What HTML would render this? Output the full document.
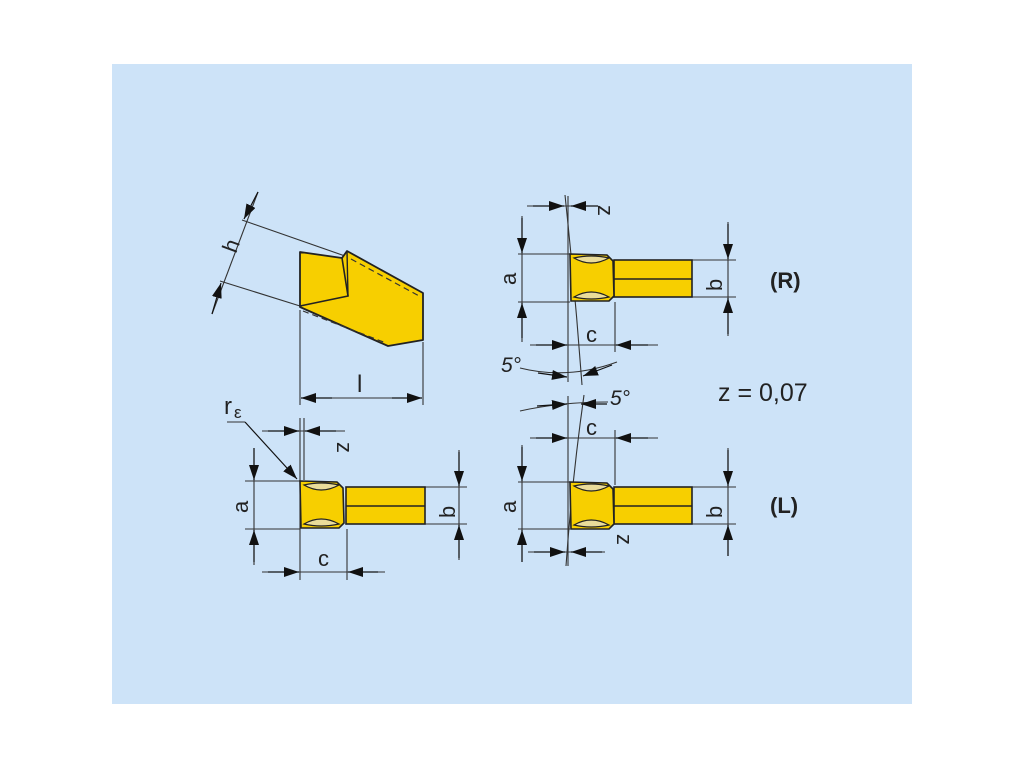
<!DOCTYPE html>
<html><head><meta charset="utf-8"><style>
html,body{margin:0;padding:0;background:#fff;}
svg{display:block;}
text{font-family:"Liberation Sans",sans-serif;fill:#222;}
</style></head><body>
<svg width="1024" height="768" viewBox="0 0 1024 768" xmlns="http://www.w3.org/2000/svg">
<defs>
<marker id="ar" markerUnits="userSpaceOnUse" markerWidth="16" markerHeight="10" refX="15" refY="5" orient="auto">
<path d="M0,0 L15,5 L0,10 z" fill="#111"/>
</marker>
<g id="front">
<path d="M1,1 L38,2 L44,8 L45,43 L40,48 L2,48 Z" fill="#f7cf00" stroke="#222" stroke-width="1.6"/>
<path d="M5,5 Q22,15 40,5 Q22,1 5,5 Z" fill="#eadc9a" stroke="#222" stroke-width="1.2"/>
<path d="M5,44 Q22,34 40,44 Q22,48 5,44 Z" fill="#eadc9a" stroke="#222" stroke-width="1.2"/>
</g>
</defs>
<rect x="112" y="64" width="800" height="640" fill="#cde3f8"/>

<g stroke="#333" stroke-width="1.1" fill="none">
<line x1="242" y1="220" x2="345" y2="256"/>
<line x1="220" y1="281" x2="300" y2="306"/>
<line x1="258" y1="192" x2="212" y2="314"/>
<line x1="300" y1="310" x2="300" y2="405"/>
<line x1="423" y1="342" x2="423" y2="405"/>
<line x1="330" y1="398" x2="395" y2="398"/>
<line x1="245" y1="481" x2="300" y2="481"/>
<line x1="245" y1="529" x2="300" y2="529"/>
<line x1="254" y1="448" x2="254" y2="565"/>
<line x1="425" y1="487" x2="467" y2="487"/>
<line x1="425" y1="524" x2="467" y2="524"/>
<line x1="459" y1="450" x2="459" y2="560"/>
<line x1="300" y1="418" x2="300" y2="580"/>
<line x1="304" y1="418" x2="304" y2="480"/>
<line x1="347" y1="529" x2="347" y2="580"/>
<line x1="262" y1="431" x2="345" y2="431"/>
<line x1="262" y1="572" x2="385" y2="572"/>
<line x1="227" y1="422" x2="245" y2="422"/>
<line x1="518" y1="254" x2="570" y2="254"/>
<line x1="518" y1="302" x2="570" y2="302"/>
<line x1="522" y1="216" x2="522" y2="342"/>
<line x1="692" y1="260" x2="736" y2="260"/>
<line x1="692" y1="297" x2="736" y2="297"/>
<line x1="728" y1="222" x2="728" y2="336"/>
<line x1="568" y1="196" x2="568" y2="382"/>
<path d="M565,195 Q575,290 582,385"/>
<line x1="527" y1="206" x2="598" y2="206"/>
<line x1="615" y1="302" x2="615" y2="352"/>
<line x1="530" y1="345" x2="658" y2="345"/>
<path d="M520,368 Q568,380 617,362"/>
<path d="M520,411 Q560,402 608,402"/>
<line x1="568" y1="396" x2="568" y2="566"/>
<path d="M584,395 Q572,480 566,566"/>
<line x1="530" y1="438" x2="658" y2="438"/>
<line x1="615" y1="430" x2="615" y2="485"/>
<line x1="518" y1="482" x2="570" y2="482"/>
<line x1="518" y1="529" x2="570" y2="529"/>
<line x1="522" y1="445" x2="522" y2="562"/>
<line x1="692" y1="487" x2="736" y2="487"/>
<line x1="692" y1="524" x2="736" y2="524"/>
<line x1="728" y1="448" x2="728" y2="556"/>
<line x1="528" y1="552" x2="605" y2="552"/>
</g>

<g stroke="#111" stroke-width="1.2" marker-end="url(#ar)">
<line x1="258" y1="192" x2="244" y2="219"/>
<line x1="212" y1="314" x2="221" y2="283"/>
<line x1="332" y1="398" x2="301" y2="398"/>
<line x1="392" y1="398" x2="422" y2="398"/>
<line x1="268" y1="431" x2="299" y2="431"/>
<line x1="336" y1="431" x2="305" y2="431"/>
<line x1="245" y1="422" x2="297" y2="479"/>
<line x1="254" y1="448" x2="254" y2="480"/>
<line x1="254" y1="562" x2="254" y2="530"/>
<line x1="459" y1="452" x2="459" y2="486"/>
<line x1="459" y1="558" x2="459" y2="525"/>
<line x1="268" y1="572" x2="299" y2="572"/>
<line x1="378" y1="572" x2="348" y2="572"/>
<line x1="533" y1="206" x2="564" y2="206"/>
<line x1="598" y1="206" x2="571" y2="206"/>
<line x1="522" y1="218" x2="522" y2="253"/>
<line x1="522" y1="338" x2="522" y2="303"/>
<line x1="728" y1="224" x2="728" y2="259"/>
<line x1="728" y1="334" x2="728" y2="298"/>
<line x1="536" y1="345" x2="567" y2="345"/>
<line x1="648" y1="345" x2="616" y2="345"/>
<line x1="538" y1="373" x2="567" y2="377"/>
<line x1="612" y1="365" x2="583" y2="376"/>
<line x1="537" y1="406" x2="567" y2="404"/>
<line x1="607" y1="404" x2="581" y2="404"/>
<line x1="536" y1="438" x2="567" y2="438"/>
<line x1="648" y1="438" x2="616" y2="438"/>
<line x1="522" y1="447" x2="522" y2="481"/>
<line x1="522" y1="562" x2="522" y2="530"/>
<line x1="728" y1="450" x2="728" y2="486"/>
<line x1="728" y1="556" x2="728" y2="525"/>
<line x1="534" y1="552" x2="565" y2="552"/>
<line x1="602" y1="552" x2="571" y2="552"/>
</g>

<path d="M300,252 L342,258 L347,251 L423,293 L423,340 L388,346 L300,307 Z" fill="#f7cf00" stroke="#222" stroke-width="1.8" stroke-linejoin="round"/>
<path d="M342,258 L348,296 L300,306" fill="none" stroke="#222" stroke-width="1.6"/>
<path d="M347,251 L348,296" fill="none" stroke="#222" stroke-width="1.4"/>
<path d="M351,259 L421,297" stroke="#333" stroke-width="1.2" stroke-dasharray="6,4"/>
<path d="M303,311 L386,343" stroke="#333" stroke-width="1.2" stroke-dasharray="6,4"/>

<rect x="346" y="487" width="79" height="37" fill="#f7cf00" stroke="#222" stroke-width="1.6"/>
<line x1="346" y1="506" x2="425" y2="506" stroke="#222" stroke-width="1.4"/>
<rect x="614" y="260" width="78" height="37" fill="#f7cf00" stroke="#222" stroke-width="1.6"/>
<line x1="614" y1="279" x2="692" y2="279" stroke="#222" stroke-width="1.4"/>
<rect x="614" y="487" width="78" height="37" fill="#f7cf00" stroke="#222" stroke-width="1.6"/>
<line x1="614" y1="506" x2="692" y2="506" stroke="#222" stroke-width="1.4"/>
<use href="#front" x="299" y="480"/>
<use href="#front" x="569" y="253"/>
<use href="#front" x="569" y="481"/>

<text x="0" y="0" font-size="22" transform="translate(236,254) rotate(-70)">h</text>
<text x="357" y="392" font-size="24">l</text>
<text x="224" y="414" font-size="24">r</text>
<text x="234" y="418" font-size="17">ε</text>
<text x="0" y="0" font-size="22" transform="translate(337,442) rotate(90)">z</text>
<text x="0" y="0" font-size="22" transform="translate(248,513) rotate(-90)">a</text>
<text x="0" y="0" font-size="22" transform="translate(455,518) rotate(-90)">b</text>
<text x="318" y="566" font-size="22">c</text>
<text x="0" y="0" font-size="22" transform="translate(598,205) rotate(90)">z</text>
<text x="0" y="0" font-size="22" transform="translate(516,285) rotate(-90)">a</text>
<text x="0" y="0" font-size="22" transform="translate(722,291) rotate(-90)">b</text>
<text x="770" y="288" font-size="22" font-weight="bold">(R)</text>
<text x="586" y="342" font-size="22">c</text>
<text x="501" y="372" font-size="21" font-style="italic">5°</text>
<text x="718" y="401" font-size="25">z = 0,07</text>
<text x="610" y="405" font-size="21" font-style="italic">5°</text>
<text x="586" y="435" font-size="22">c</text>
<text x="0" y="0" font-size="22" transform="translate(516,513) rotate(-90)">a</text>
<text x="0" y="0" font-size="22" transform="translate(722,518) rotate(-90)">b</text>
<text x="770" y="513" font-size="22" font-weight="bold">(L)</text>
<text x="0" y="0" font-size="22" transform="translate(617,534) rotate(90)">z</text>
</svg>
</body></html>
